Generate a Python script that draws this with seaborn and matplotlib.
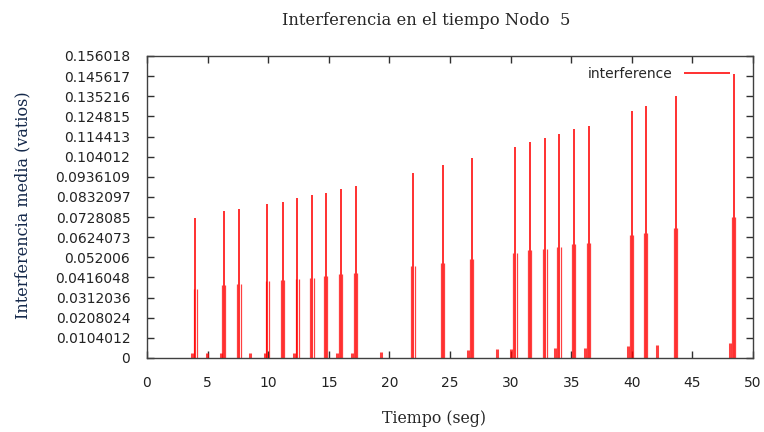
import matplotlib
matplotlib.use('Agg')
import matplotlib.pyplot as plt
import numpy as np
import pandas as pd
import seaborn as sns

sns.set_style('ticks')
plt.rcParams['font.family'] = ['DejaVu Sans']

# tall impulses (tiempo, valor)
peak_t = [3.99, 6.33, 7.59, 9.93, 11.19, 12.40, 13.61, 14.74, 15.98, 17.22, 21.95, 24.40,
          26.79, 30.36, 31.57, 32.84, 33.99, 35.20, 36.44, 39.99, 41.15, 43.62, 48.41]
peak_v = [0.0725, 0.0758, 0.0770, 0.0796, 0.0808, 0.0828, 0.0840, 0.0852, 0.0871, 0.0887,
          0.0956, 0.0995, 0.1035, 0.1092, 0.1117, 0.1135, 0.1156, 0.1182, 0.1201, 0.1278,
          0.1304, 0.1355, 0.1466]

# half height impulses on both sides of each peak
half_lo_t = [3.86, 6.20, 7.46, 9.80, 11.06, 12.27, 13.48, 14.61, 15.85, 17.09, 21.82, 24.27,
             26.66, 30.23, 31.44, 32.71, 33.86, 35.07, 36.31, 39.86, 41.02, 43.49, 48.28]
half_hi_t = [4.12, 6.46, 7.72, 10.06, 11.32, 12.53, 13.74, 14.87, 16.11, 17.35, 22.08, 24.53,
             26.92, 30.49, 31.70, 32.97, 34.12, 35.33, 36.57, 40.12, 41.28, 43.75, 48.54]
half_v = [0.0356, 0.0377, 0.0384, 0.0396, 0.0403, 0.0408, 0.0415, 0.0422, 0.0434, 0.0441,
          0.0474, 0.0492, 0.0511, 0.0544, 0.0556, 0.0563, 0.0575, 0.0589, 0.0596, 0.0635,
          0.0647, 0.0673, 0.0730]

# small impulses near zero
small_t = [3.71, 4.92, 6.13, 8.50, 9.71, 12.13, 15.70, 16.90, 19.28, 26.46, 28.90, 30.06,
           33.64, 36.10, 39.70, 42.08, 48.10]
small_v = [0.0026, 0.0026, 0.0026, 0.0026, 0.0026, 0.0026, 0.0028, 0.0028, 0.0030, 0.0041,
           0.0046, 0.0046, 0.0052, 0.0052, 0.0062, 0.0067, 0.0078]

yticks = [0, 0.0104012, 0.0208024, 0.0312036, 0.0416048, 0.052006, 0.0624073, 0.0728085,
          0.0832097, 0.0936109, 0.104012, 0.114413, 0.124815, 0.135216, 0.145617, 0.156018]
ytick_labels = ['0', '0.0104012', '0.0208024', '0.0312036', '0.0416048', '0.052006',
                '0.0624073', '0.0728085', '0.0832097', '0.0936109', '0.104012', '0.114413',
                '0.124815', '0.135216', '0.145617', '0.156018']

halves = pd.DataFrame({'t': half_lo_t + half_hi_t, 'v': half_v + half_v})

fig = plt.figure(figsize=(7.64, 4.32), dpi=100)
ax = fig.add_axes([0.1924, 0.1713, 0.7932, 0.6991])

ax.vlines(halves['t'], 0, halves['v'], color='red', lw=0.9, alpha=0.75)
ax.vlines(peak_t, 0, peak_v, color='red', lw=1.2, alpha=0.95, label='interference')
ax.vlines(small_t, 0, small_v, color='red', lw=2.2, alpha=0.75)

ax.set_xlim(0, 50)
ax.set_ylim(0, 0.156018)
ax.set_xticks(range(0, 51, 5))
ax.set_yticks(yticks)
ax.set_yticklabels(ytick_labels)

for s in ax.spines.values():
    s.set_visible(True)
    s.set_color('#404040')
    s.set_linewidth(1.0)
ax.tick_params(axis='both', direction='in', length=5, width=1, color='#303030',
               top=True, right=True, labelsize=10, labelcolor='#222222')
ax.tick_params(axis='y', pad=12)
ax.tick_params(axis='x', pad=13)

serif = ['DejaVu Serif']
ax.set_title('Interferencia en el tiempo Nodo  5', family=serif, fontsize=11.8,
             x=0.46, pad=22)
ax.set_xlabel('Tiempo (seg)', family=serif, fontsize=11.3)
ax.xaxis.set_label_coords(0.474, -0.172)
ax.set_ylabel('Interferencia media (vatios)', family=serif, fontsize=11.5,
              color='#14284a')
ax.yaxis.set_label_coords(-0.19, 0.507)

ax.legend(loc='upper right', frameon=False, markerfirst=False, handlelength=3.3,
          fontsize=10, bbox_to_anchor=(0.98, 1.0), borderaxespad=0.4)

fig.savefig('out.png', dpi=100)
